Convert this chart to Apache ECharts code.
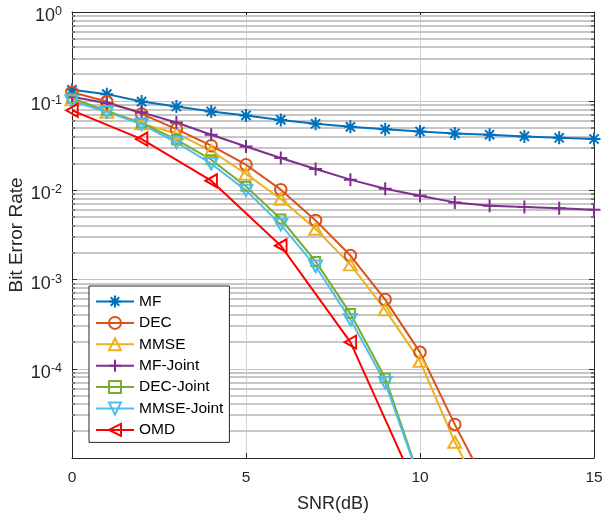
<!DOCTYPE html>
<html>
<head>
<meta charset="utf-8">
<script src="https://cdn.jsdelivr.net/npm/echarts@6/dist/echarts.min.js"></script>
<style>
  html, body { margin: 0; padding: 0; background: #fff; }
  #chart { width: 604px; height: 519px; }
</style>
</head>
<body>
<div id="chart"></div>
<script>
// SNR grid (dB)
const snr = [0, 1, 2, 3, 4, 5, 6, 7, 8, 9, 10, 11, 12, 13, 14, 15];

// Bit error rate for each detector
const mf        = [0.134, 0.12, 0.099, 0.0872, 0.0767, 0.0692, 0.0617, 0.0558, 0.0516, 0.0484, 0.0458, 0.0435, 0.0421, 0.0403, 0.0389, 0.0377];
const dec       = [0.126, 0.099, 0.072, 0.0487, 0.0317, 0.0194, 0.0102, 0.00461, 0.00186, 0.000597, 0.000153, 2.38e-5, 4.2e-6];
const mmse      = [0.104, 0.0755, 0.056, 0.0435, 0.0278, 0.0153, 0.008, 0.00369, 0.00147, 0.000461, 0.000122, 1.51e-5, 2.6e-6];
const mfJoint   = [0.112, 0.095, 0.075, 0.0578, 0.042, 0.0311, 0.0231, 0.0174, 0.0132, 0.01045, 0.00873, 0.00734, 0.00674, 0.00651, 0.0063, 0.00608];
const decJoint  = [0.108, 0.078, 0.057, 0.037, 0.0221, 0.0111, 0.00478, 0.0016, 0.000416, 7.9e-5, 5.7e-6];
const mmseJoint = [0.1, 0.076, 0.055, 0.0345, 0.0199, 0.01, 0.00413, 0.00141, 0.000356, 6.97e-5, 5.5e-6];

// OMD is evaluated every 2 dB
const snrOmd = [0, 2, 4, 6, 8, 10];
const omd    = [0.079, 0.0376, 0.01285, 0.0024, 0.000199, 3.7e-6];

// Axis ranges and tick labels
const xTicks = [0, 5, 10, 15];
const yMin = 1e-5, yMax = 1;

const FONT = '"Liberation Sans", Arial, Helvetica, sans-serif';
const AX = '#262626';

const pairs = (xs, ys) => ys.map((v, i) => [xs[i], v]);

// minor log grid values 2..9 x 10^k
const minorVals = [];
for (let k = -5; k < 0; k++) {
  for (let m = 2; m <= 9; m++) minorVals.push(m * Math.pow(10, k));
}

const P_AST  = 'path://M0,-10L0,10M-10,0L10,0M-7.07,-7.07L7.07,7.07M-7.07,7.07L7.07,-7.07';
const P_PLUS = 'path://M0,-10L0,10M-10,0L10,0';

function lineSeries(name, data, color, symbol, size, rotate) {
  return {
    name: name,
    type: 'line',
    data: data,
    color: color,
    symbol: symbol,
    symbolSize: size,
    symbolRotate: rotate || 0,
    showAllSymbol: true,
    clip: true,
    lineStyle: { color: color, width: 2 },
    itemStyle: { color: 'none', borderColor: color, borderWidth: 2 },
    emphasis: { disabled: true },
    z: 3
  };
}

const chart = echarts.init(document.getElementById('chart'), null, { renderer: 'canvas' });

const option = {
  animation: false,
  backgroundColor: '#fff',
  textStyle: { fontFamily: FONT },
  grid: { left: 72, right: 10, top: 12, bottom: 61, containLabel: false, outerBoundsMode: 'none' },
  xAxis: [
    {
      type: 'value', min: 0, max: 15, interval: 5,
      name: 'SNR(dB)', nameLocation: 'middle', nameGap: 37, nameMoveOverlap: false,
      nameTextStyle: { fontSize: 18, color: AX, fontFamily: FONT },
      axisLine: { show: true, onZero: false, lineStyle: { color: AX, width: 1 } },
      axisTick: { show: true, inside: true, length: 5, lineStyle: { color: AX } },
      axisLabel: {
        margin: 12, fontSize: 15.5, color: AX, fontFamily: FONT,
        formatter: v => (xTicks.indexOf(v) >= 0 ? String(v) : '')
      },
      splitLine: { show: true, lineStyle: { color: '#d4d4d4', width: 1 } }
    },
    {
      type: 'value', min: 0, max: 15, interval: 5, position: 'top',
      axisLine: { show: true, onZero: false, lineStyle: { color: AX, width: 1 } },
      axisTick: { show: true, inside: true, length: 5, lineStyle: { color: AX } },
      axisLabel: { show: false },
      splitLine: { show: false }
    }
  ],
  yAxis: [
    {
      type: 'log', logBase: 10, min: yMin, max: yMax,
      name: 'Bit Error Rate', nameLocation: 'middle', nameGap: 46, nameRotate: 90,
      nameMoveOverlap: false,
      nameTextStyle: { fontSize: 19, color: AX, fontFamily: FONT },
      axisLine: { show: true, onZero: false, lineStyle: { color: AX, width: 1 } },
      axisTick: { show: true, inside: true, length: 5, lineStyle: { color: AX } },
      axisLabel: {
        margin: 10,
        formatter: function (v) {
          const e = Math.round(Math.log10(v));
          if (e === -5) return '';
          return '{b|10}{s|' + e + '}';
        },
        rich: {
          b: { fontSize: 18, lineHeight: 18, color: AX, fontFamily: FONT, padding: [8, 0, 0, 0] },
          s: { fontSize: 12.5, lineHeight: 13, color: AX, fontFamily: FONT, padding: [6, 0, 7, 0] }
        }
      },
      splitLine: { show: true, lineStyle: { color: '#c4c4c4', width: 1 } }
    },
    {
      type: 'log', logBase: 10, min: yMin, max: yMax, position: 'right',
      axisLine: { show: true, onZero: false, lineStyle: { color: AX, width: 1 } },
      axisTick: { show: true, inside: true, length: 5, lineStyle: { color: AX } },
      axisLabel: { show: false },
      splitLine: { show: false }
    }
  ],
  legend: {
    orient: 'vertical',
    left: 89, top: 286,
    itemWidth: 38, itemHeight: 15, itemGap: 4.4,
    padding: [7, 6, 4, 6],
    backgroundColor: '#fff',
    borderColor: AX, borderWidth: 1, borderRadius: 0,
    textStyle: { fontSize: 15.5, color: '#000', fontFamily: FONT },
    selectedMode: false,
    data: ['MF', 'DEC', 'MMSE', 'MF-Joint', 'DEC-Joint', 'MMSE-Joint', 'OMD']
  },
  series: [
    {
      // minor log grid lines and minor ticks on both y-axes
      name: 'minor-grid',
      type: 'custom',
      silent: true,
      z: 1,
      data: minorVals.map(v => [0, v]),
      renderItem: function (params, api) {
        const v = api.value(1);
        const a = api.coord([0, v]);
        const b = api.coord([15, v]);
        const y = Math.round(a[1]);
        return {
          type: 'group',
          children: [
            { type: 'line', shape: { x1: a[0], y1: y, x2: b[0], y2: y }, style: { stroke: '#c6c6c6', lineWidth: 1.8 } },
            { type: 'line', shape: { x1: a[0], y1: y, x2: a[0] + 3, y2: y }, style: { stroke: AX, lineWidth: 1 } },
            { type: 'line', shape: { x1: b[0] - 3, y1: y, x2: b[0], y2: y }, style: { stroke: AX, lineWidth: 1 } }
          ]
        };
      }
    },
    lineSeries('MF',         pairs(snr, mf),        '#0072BD', P_AST, 13),
    lineSeries('DEC',        pairs(snr, dec),       '#D95319', 'circle', 11.5),
    lineSeries('MMSE',       pairs(snr, mmse),      '#EDB120', 'triangle', [13, 11.5]),
    lineSeries('MF-Joint',   pairs(snr, mfJoint),   '#7E2F8E', P_PLUS, 13),
    lineSeries('DEC-Joint',  pairs(snr, decJoint),  '#77AC30', 'rect', 9),
    lineSeries('MMSE-Joint', pairs(snr, mmseJoint), '#4DBEEE', 'triangle', [13, 11.5], 180),
    lineSeries('OMD',        pairs(snrOmd, omd),    '#FF0000', 'triangle', [13, 11.5], 90)
  ]
};

chart.setOption(option);
</script>
</body>
</html>
